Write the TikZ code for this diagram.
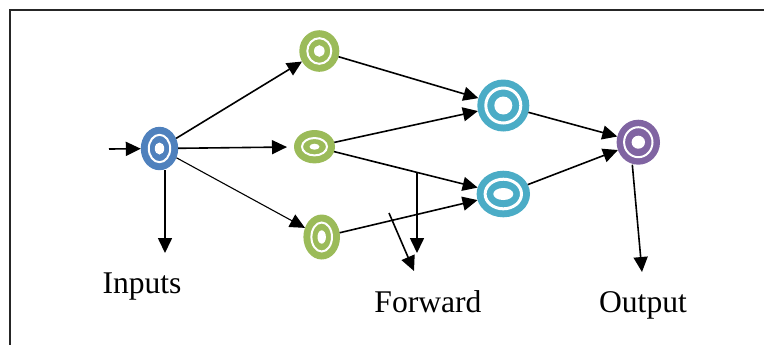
\documentclass[tikz,border=0pt]{standalone}
\usepackage{fontspec}
\setmainfont{Liberation Serif}
\usepackage{tikz}
\usetikzlibrary{arrows.meta,shapes.geometric}
\definecolor{inblue}{HTML}{4F81BD}
\definecolor{hgreen}{HTML}{9BBB59}
\definecolor{kcyan}{HTML}{4BACC6}
\definecolor{opurple}{HTML}{8064A2}

\begin{document}
\begin{tikzpicture}[x=0.5pt,y=-0.5pt,>={Triangle[length=7.5pt,width=7pt]},line width=0.8pt]
		\tikzstyle{neuron}=[ellipse,inner sep=0pt,outer sep=0pt,draw=none]
		\tikzstyle{lbl}=[anchor=base,font=\fontsize{15.8}{19}\selectfont]

		\useasboundingbox (0,0) rectangle (764,345);
		\draw[line width=1pt,black!85] (764,10) -- (10,10) -- (10,345);

		\node[neuron,fill=inblue,minimum width=18.7pt,minimum height=21.7pt] (inp) at (159.5,148.5) {};
		\node[neuron,fill=hgreen,minimum width=20pt,minimum height=20.8pt] (h1) at (319.3,51) {};
		\node[neuron,fill=hgreen,minimum width=20.5pt,minimum height=16.7pt] (h2) at (314.5,146.7) {};
		\node[neuron,fill=hgreen,minimum width=18.3pt,minimum height=22.5pt] (h3) at (321.7,237) {};
		\node[neuron,fill=kcyan,minimum width=26pt,minimum height=26pt] (k1) at (503.3,105.5) {};
		\node[neuron,fill=kcyan,minimum width=26.7pt,minimum height=23.3pt] (k2) at (503.3,194) {};
		\node[neuron,fill=opurple,minimum width=21.7pt,minimum height=22.5pt] (out) at (638.3,142.2) {};

		% white ring and hole of each neuron
		\foreach \n/\rx/\ry/\hx/\hy/\w in {inp/5.35/6.85/2.35/3/1, h1/6/6.4/2.65/2.9/1,
			h2/6.25/4.35/2.5/1.5/1, h3/5.15/7.25/2.1/3.35/1, k1/8.75/8.75/4.5/4.5/1.5,
			k2/9.1/7.4/5/3/1.5, out/7.1/7.5/3.35/3.25/1}
		{
			\draw[white,line width=\w pt] (\n.center) ellipse (\rx pt and \ry pt);
			\fill[white] (\n.center) ellipse (\hx pt and \hy pt);
		}

		\coordinate (src) at (109,149);
		\coordinate (inDown) at (165,253);
		\coordinate (outDown) at (642,272);
		\coordinate (fwdA) at (417,173);
		\coordinate (fwdB) at (417,253);
		\coordinate (fwdC) at (389,213);
		\coordinate (fwdD) at (414,271);

		\node[lbl] (inputs) at (142,293) {Inputs};
		\node[lbl] (forward) at (428,312) {Forward};
		\node[lbl] (output) at (643,312) {Output};

		\path[->]
		(src) edge (inp)
		(inp) edge (h1)
			edge [shorten >=3.5pt] (h2)
			edge [line width=0.55pt] (h3)
		(h1) edge (k1)
		(h2) edge (k1)
			edge (k2)
		(h3) edge (k2)
		(k1) edge (out)
		(k2) edge (out)
		(fwdA) edge (fwdB)
		(fwdC) edge (fwdD);
		\draw[->] (inp.south -| inDown) -- (inDown);
		\draw[->] ([xshift=-3pt]out.south) -- (outDown);
	\end{tikzpicture}
\end{document}
